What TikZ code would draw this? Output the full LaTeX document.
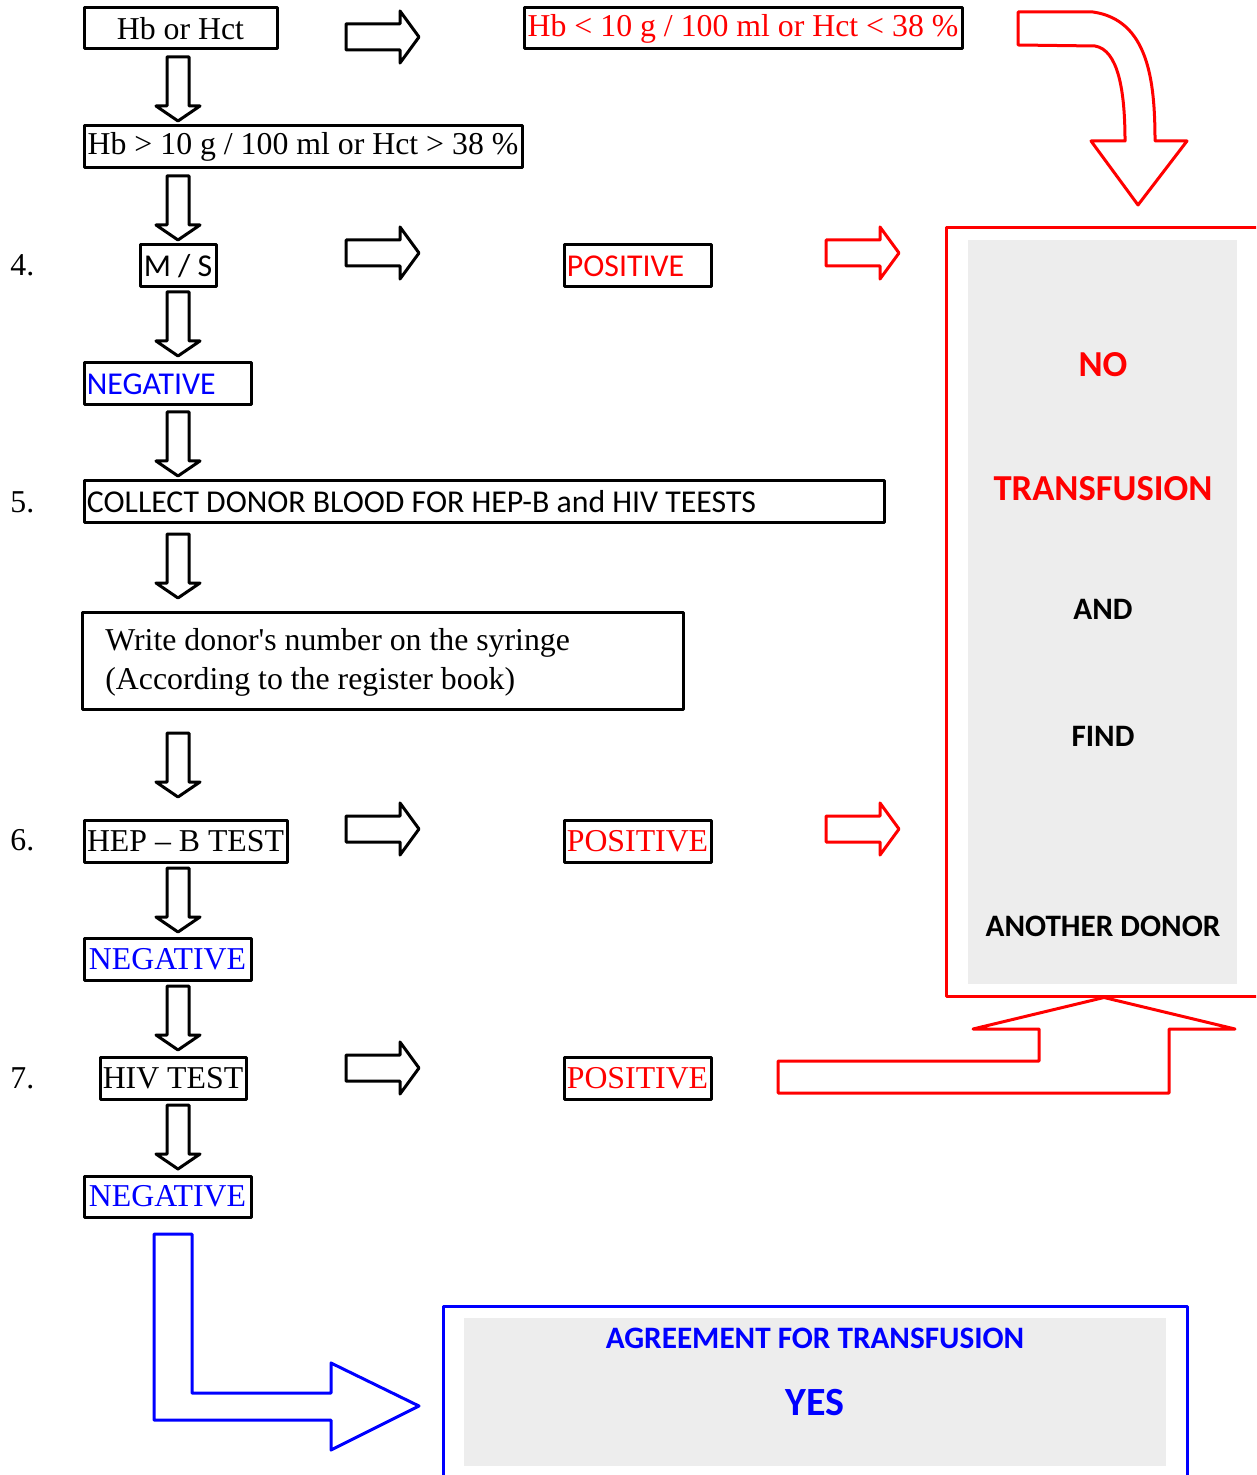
\documentclass[tikz,border=0pt]{standalone}
\usepackage{fontspec}
\setmainfont{Liberation Serif}
\newfontfamily\calib{Carlito}
\usetikzlibrary{fit}
\definecolor{gfill}{RGB}{237,237,237}
\definecolor{myred}{RGB}{255,0,0}
\definecolor{myblue}{RGB}{0,0,255}
\newcommand\sersz{\fontsize{15.9}{18}\selectfont}
\newcommand\sanssz{\calib\fontsize{15.9}{18}\selectfont}
\newcommand\bigb{\calib\bfseries\fontsize{18.3}{20}\selectfont}
\newcommand\midb{\calib\bfseries\fontsize{15.6}{18}\selectfont}
\tikzset{
  box/.style={draw, line width=1.5pt, inner sep=0pt},
  ser/.style={font=\sersz, inner sep=0pt},
  san/.style={font=\sanssz, inner sep=0pt},
  darr/.pic={\draw[line width=1.5pt, line join=round, pic actions] (-11,0) -- (11,0) -- (11,49) -- (22,49) -- (0,64) -- (-22,49) -- (-11,49) -- cycle;},
  rarr/.pic={\draw[line width=1.5pt, line join=round, pic actions] (0,-13) -- (54,-13) -- (54,-26) -- (73,0) -- (54,26) -- (54,13) -- (0,13) -- cycle;},
}
\begin{document}
\begin{tikzpicture}[x=0.5pt, y=-0.5pt, line join=round]
\useasboundingbox (0,0) rectangle (1256,1475);
\clip (0,0) rectangle (1256,1475);

% grey fills
\fill[gfill] (968,240) rectangle (1237,984);
\fill[gfill] (464,1318) rectangle (1166,1466);

% left column
\node[box, fit={(84,8)(277,49)}] (hb) {};
\node[ser] at (hb) {Hb or Hct};
\node[box, fit={(84,126)(522,168)}] (hbgt) {};
\node[ser] at (hbgt) {Hb > 10 g / 100 ml or Hct > 38 \%};
\node[box, fit={(140,245)(216,287)}] (ms) {};
\node[san] at (ms) {M / S};
\node[box, fit={(84,363)(251,405)}] (neg1) {};
\node[san, text=myblue, anchor=west] at ([xshift=2pt]neg1.west) {NEGATIVE};
\node[box, fit={(84,481)(884,522)}] (coll) {};
\node[san, anchor=west] at ([xshift=2pt]coll.west) {COLLECT DONOR BLOOD FOR HEP-B and HIV TEESTS};
\node[box, fit={(82,612)(683,709)}] (write) {};
\node[ser, anchor=west] at (105,643) {Write donor\textquotesingle s number on the syringe};
\node[ser, anchor=west] at (105,682) {(According to the register book)};
\node[box, fit={(84,820)(287,862)}] (hep) {};
\node[ser] at (hep) {HEP -- B TEST};
\node[box, fit={(84,938)(251,980)}] (neg2) {};
\node[ser, text=myblue] at (neg2) {NEGATIVE};
\node[box, fit={(100,1057)(246,1099)}] (hiv) {};
\node[ser] at (hiv) {HIV TEST};
\node[box, fit={(84,1176)(251,1217)}] (neg3) {};
\node[ser, text=myblue] at (neg3) {NEGATIVE};

% numbers
\node[ser, anchor=west] (n4) at (10,265) {4.};
\node[ser, anchor=west] (n5) at (10,502) {5.};
\node[ser, anchor=west] (n6) at (10,840) {6.};
\node[ser, anchor=west] (n7) at (10,1078) {7.};

% down arrows
\foreach \yy in {57,176,292,412,534,733,868,986,1105}
  \pic at (178,\yy) {darr};

% right column
\node[box, fit={(524,8)(962,49)}] (hblt) {};
\node[ser, text=myred] at (hblt) {Hb < 10 g / 100 ml or Hct < 38 \%};
\node[box, fit={(564,245)(711,287)}] (pos1) {};
\node[san, text=myred, anchor=west] at ([xshift=2pt]pos1.west) {POSITIVE};
\node[box, fit={(564,820)(711,862)}] (pos2) {};
\node[ser, text=myred] at (pos2) {POSITIVE};
\node[box, fit={(564,1057)(711,1099)}] (pos3) {};
\node[ser, text=myred] at (pos3) {POSITIVE};

% black right arrows
\pic at (346,37) {rarr};
\pic at (346,253) {rarr};
\pic at (346,829) {rarr};
\pic at (346,1068) {rarr};
% red right arrows
\pic[draw=myred] at (826,253) {rarr};
\pic[draw=myred] at (826,829) {rarr};

% NO TRANSFUSION box
\node[draw=myred, line width=1.5pt, inner sep=0pt, fit={(946,228)(1262,996)}] (nobox) {};
\node[font=\bigb, text=myred] at (1103,365) {NO};
\node[font=\bigb, text=myred] at (1103,489) {TRANSFUSION};
\node[font=\midb] at (1103,609) {AND};
\node[font=\midb] at (1103,736) {FIND};
\node[font=\midb] at (1103,926) {ANOTHER DONOR};

% red curved arrow
\draw[myred, line width=1.5pt] (1018,12) -- (1093,12)
  .. controls (1148,20) and (1155,80) .. (1155,141) -- (1187,141) -- (1138,205)
  -- (1091,141) -- (1125,141) .. controls (1125,90) and (1118,50) .. (1095,46)
  -- (1018,45) -- cycle;

% red bottom arrow
\draw[myred, line width=1.5pt] (nobox.south) -- (1235,1029) -- (1169,1029) -- (1169,1093)
  -- (778,1093) -- (778,1061) -- (1039,1061) -- (1039,1029) -- (973,1029) -- cycle;

% YES box
\node[draw=myblue, line width=1.5pt, inner sep=0pt, fit={(443,1306)(1187,1490)}] (yesbox) {};
\node[font=\midb, text=myblue] at (815,1338) {AGREEMENT FOR TRANSFUSION};
\node[font=\calib\bfseries\fontsize{20}{22}\selectfont, text=myblue] at (815,1403) {YES};

% blue bent arrow
\draw[myblue, line width=1.5pt] (154,1234) -- (192,1234) -- (192,1393) -- (331,1393)
  -- (331,1363) -- (419,1406) -- (331,1450) -- (331,1420) -- (154,1420) -- cycle;
\end{tikzpicture}
\end{document}
